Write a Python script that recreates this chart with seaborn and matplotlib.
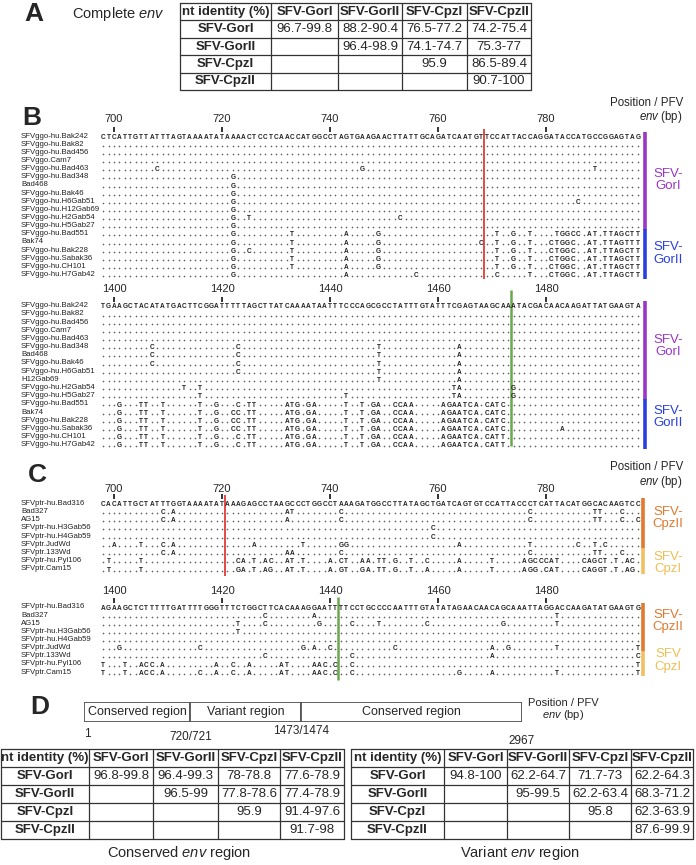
import matplotlib
matplotlib.use("Agg")
import matplotlib.pyplot as plt
import matplotlib.transforms as mtransforms
from matplotlib import font_manager as fm
import pandas as pd
import seaborn as sns

# ------------------------------------------------------------------ data
groups = ["SFV-GorI", "SFV-GorII", "SFV-CpzI", "SFV-CpzII"]
table_corner = "nt identity (%)"
complete_env = [["96.7-99.8", "88.2-90.4", "76.5-77.2", "74.2-75.4"],
                ["", "96.4-98.9", "74.1-74.7", "75.3-77"],
                ["", "", "95.9", "86.5-89.4"],
                ["", "", "", "90.7-100"]]
conserved_env = [["96.8-99.8", "96.4-99.3", "78-78.8", "77.6-78.9"],
                 ["", "96.5-99", "77.8-78.6", "77.4-78.9"],
                 ["", "", "95.9", "91.4-97.6"],
                 ["", "", "", "91.7-98"]]
variant_env = [["94.8-100", "62.2-64.7", "71.7-73", "62.2-64.3"],
               ["", "95-99.5", "62.2-63.4", "68.3-71.2"],
               ["", "", "95.8", "62.3-63.9"],
               ["", "", "", "87.6-99.9"]]

env_regions = ["Conserved region", "Variant region", "Conserved region"]
env_region_start = [1, 721, 1474]
env_region_end = [720, 1473, 2967]
env_marks = ["1", "720/721", "1473/1474", "2967"]
env_mark_pos = [1, 720.5, 1473.5, 2967]

gor_names_1 = ["SFVggo-hu.Bak242", "SFVggo-hu.Bak82", "SFVggo-hu.Bad456", "SFVggo.Cam7",
               "SFVggo-hu.Bad463", "SFVggo-hu.Bad348", "Bad468", "SFVggo-hu.Bak46",
               "SFVggo-hu.H6Gab51", "SFVggo-hu.H12Gab69", "SFVggo-hu.H2Gab54",
               "SFVggo-hu.H5Gab27", "SFVggo-hu.Bad551", "Bak74", "SFVggo-hu.Bak228",
               "SFVggo-hu.Sabak36", "SFVggo-hu.CH101", "SFVggo-hu.H7Gab42"]
gor_names_2 = ["SFVggo-hu.Bak242", "SFVggo-hu.Bak82", "SFVggo-hu.Bad456", "SFVggo.Cam7",
               "SFVggo-hu.Bad463", "SFVggo-hu.Bad348", "Bad468", "SFVggo-hu.Bak46",
               "SFVggo-hu.H6Gab51", "H12Gab69", "SFVggo-hu.H2Gab54",
               "SFVggo-hu.H5Gab27", "SFVggo-hu.Bad551", "Bak74", "SFVggo-hu.Bak228",
               "SFVggo-hu.Sabak36", "SFVggo-hu.CH101", "SFVggo-hu.H7Gab42"]
cpz_names = ["SFVptr-hu.Bad316", "Bad327", "AG15", "SFVptr-hu.H3Gab56", "SFVptr-hu.H4Gab59",
             "SFVptr.JudWd", "SFVptr.133Wd", "SFVptr-hu.Pyl106", "SFVptr.Cam15"]

gor_start_1 = 698
gor_ref_1 = "CTCATTGTTATTTAGTAAAATATAAAACTCCTCAACCATGGCCTAGTGAAGAACTTATTGCAGATCAATGTTCCATTACCAGGATACCATGCCGGAGTAG"
gor_var_1 = [
    [], [], [],
    [(10, "C"), (48, "G"), (91, "T")],
    [(24, "G")], [(24, "G")], [(24, "G")],
    [(24, "G"), (88, "C")],
    [(24, "G")],
    [(24, "G"), (27, "T"), (55, "C")],
    [(24, "G")],
    [(24, "G"), (35, "T"), (45, "A"), (51, "G"), (71, "..T..G..T....TGGCC.AT.TTAGCTT")],
    [(24, "G"), (35, "T"), (45, "A"), (51, "G"), (70, "C..T..G..T...CTGGC..AT.TTAGTTT")],
    [(24, "G"), (27, "C"), (35, "T"), (45, "A"), (51, "G"), (71, "..T..G..T...CTGGC..AT.TTAGCTT")],
    [(24, "G"), (35, "T"), (45, "A"), (51, "G"), (71, "..T..G..T...CTGGC..AT.TTAGCTT")],
    [(24, "G"), (35, "T"), (45, "A"), (51, "G"), (71, "..T..G..T...CTGGC..AT.TTAGCTT")],
    [(24, "G"), (45, "A"), (58, "C"), (71, "..C.....T...CTGGC..AT.TTAGCTT")],
]
gor_start_2 = 1398
gor_ref_2 = "TGAAGCTACATATGACTTCGGATTTTTAGCTTATCAAAATAATTTCCCAGCGCCTATTTGTATTTCGAGTAAGCAAATACGACAACAAGATTATGAAGTA"
gor_var_2 = [
    [], [], [], [],
    [(9, "C"), (25, "C"), (51, "T"), (66, "A")],
    [(9, "C"), (25, "C"), (51, "T"), (66, "A")],
    [(9, "C"), (25, "C"), (51, "T"), (66, "A")],
    [(25, "C"), (51, "T"), (66, "A")],
    [(51, "T"), (66, "A")],
    [(15, "T"), (18, "T"), (65, "TA"), (76, "G")],
    [(18, "T"), (45, "T"), (65, "TA"), (76, "G")],
    [(0, "...G...TT..T......T..G...C.TT.....ATG.GA.....T..T.GA..CCAA.....AGAATCA.CATC")],
    [(0, "...G...TT..T......T..G..CC.TT.....ATG.GA.....T..T.GA..CCAA.....AGAATCA.CATC")],
    [(0, "...G...TT..T......T..G..CC.TT.....ATG.GA.....T..T.GA..CCAA.....AGAATCA.CATC")],
    [(0, "...G...TT..T......T..G..CC.TT.....ATG.GA.....T..T.GA..CCAA.....AGAATCA.CATC"), (85, "A")],
    [(0, "...G...TT..T......T..G...C.TT.....ATG.GA.....T..T.GA..CCAA.....AGAATCA.CATT")],
    [(0, "...G...TT..T......T..G...C.TT.....ATG.GA.....T..T.GA..CCAA.....AGAATCA.CATT")],
]
cpz_start_1 = 698
cpz_ref_1 = "CACATTGCTATTTGGTAAAATATAAAGAGCCTAAGCCCTGGCCTAAAGATGGCCTTATAGCTGATCAGTGTCCATTACCCTCATTACATGGCACAAGTCC"
cpz_var_1 = [
    [(11, "C.A"), (34, "AT"), (44, "C"), (79, "C"), (91, "TT"), (96, "C")],
    [(11, "C.A"), (34, "A"), (44, "C"), (79, "C"), (91, "TT"), (96, "C..C")],
    [(61, "C")],
    [(61, "C")],
    [(2, "A"), (7, "T"), (11, "C.A"), (28, "A"), (37, "T"), (44, "GG"), (66, "A"), (79, "T"), (88, "C"), (91, "T.C")],
    [(11, "C.A"), (34, "AA"), (44, "C"), (79, "C"), (91, "TT"), (96, "C")],
    [(1, "T"), (7, "T"), (25, "CA.T.AC"), (34, "AT.T"), (42, "A.CT"), (48, "AA.TT.G"), (57, "T"),
     (60, "C"), (66, "A"), (72, "T"), (78, "AGCCCAT"), (89, "CAGCT.T.AC")],
    [(1, "T"), (7, "T"), (25, "GA.T.AG"), (34, "AT.T"), (42, "A.GT"), (48, "GA.TT.G"), (57, "T"),
     (60, "A"), (66, "A"), (72, "T"), (78, "AGG.CAT"), (89, "CAGGT.T.AG")],
]
cpz_start_2 = 1398
cpz_ref_2 = "AGAAGCTCTTTTTGATTTTGGGTTTCTGGCTTCACAAAGGAATTTTCCTGCCCCAATTTGTATATAGAACAACAGCAAATTAGGACCAAGATATGAAGTG"
cpz_var_2 = [
    [(30, "C"), (39, "A"), (84, "T")],
    [(25, "T"), (30, "C"), (40, "G"), (46, "C"), (51, "T"), (60, "C"), (74, "G"), (84, "T")],
    [(25, "T")],
    [],
    [(3, "G"), (18, "C"), (37, "G.A..C"), (54, "C"), (72, "A..G"), (84, "T"), (99, "T")],
    [(30, "C"), (46, "C"), (72, "A"), (99, "C")],
    [(0, "T...T..ACC.A.........A..C..A.....AT....AAC.C"), (46, "C"), (99, "T")],
    [(0, "T...T..ACC.A......C..A..C..A.....AT....AAC.C"), (46, "C"), (66, "G"), (72, "A"), (84, "T"), (99, "T")],
]

ticks_1 = [700, 720, 740, 760, 780]
ticks_2 = [1400, 1420, 1440, 1460, 1480]
gor_cut_1, gor_cut_2 = 768.5, 1473.5
cpz_cut_1, cpz_cut_2 = 720.5, 1441.5
gor_groups = [("SFV-\nGorI", 0, 11), ("SFV-\nGorII", 12, 17)]
cpz_groups_1 = [("SFV-\nCpzII", 0, 5), ("SFV-\nCpzI", 6, 8)]
cpz_groups_2 = [("SFV-\nCpzII", 0, 5), ("SFV\nCpzI", 6, 8)]

# ------------------------------------------------------------------ style
sns.set_theme(style="white")
avail = {f.name for f in fm.fontManager.ttflist}
SANS = "Liberation Sans"
NARROW = "Liberation Sans Narrow" if "Liberation Sans Narrow" in avail else SANS
SEQ_SIZE = 5.6 if NARROW != SANS else 4.7
plt.rcParams["font.family"] = [SANS, "DejaVu Sans"]
plt.rcParams["mathtext.fontset"] = "custom"
plt.rcParams["mathtext.rm"] = SANS
plt.rcParams["mathtext.it"] = SANS + ":italic"
plt.rcParams["mathtext.bf"] = SANS + ":bold"

COL = {"SFV-\nGorI": "#9a36c6", "SFV-\nGorII": "#2a3fe0", "SFV-\nCpzII": "#e07a30",
       "SFV-\nCpzI": "#f0c062", "SFV\nCpzI": "#f0c062"}
TXT = {"SFV-\nGorI": "#9a36c6", "SFV-\nGorII": "#2a3fe0", "SFV-\nCpzII": "#e07a30",
       "SFV-\nCpzI": "#eebf55", "SFV\nCpzI": "#eebf55"}

W, H = 696, 865
fig = plt.figure(figsize=(W / 100, H / 100), dpi=100)
over = fig.add_axes([0, 0, 1, 1])
over.set_xlim(0, W)
over.set_ylim(H, 0)
over.axis("off")


def px_axes(x0, y0, x1, y1):
    a = fig.add_axes([x0 / W, 1 - y1 / H, (x1 - x0) / W, (y1 - y0) / H])
    a.patch.set_alpha(0)
    return a


STEP = 5.4
X_LEFT = 100.5
TICK_LEN_PT = 3.5
POS_LABEL = "Position / PFV\n$\\it{env}$ (bp)"


def build_rows(ref, variants):
    rows = [ref]
    for muts in variants:
        r = ["."] * len(ref)
        for off, seg in muts:
            for k, ch in enumerate(seg):
                if off + k < len(ref):
                    r[off + k] = ch
        rows.append("".join(r))
    return rows


def draw_block(start, ref, variants, names, ticks, cut, cut_color, cut_lw,
               first_row, row_h, label_y, cut_span, groups, bar_x, label_pos):
    n = len(names)
    L = len(ref)
    y0 = first_row - row_h / 2
    ax = px_axes(X_LEFT, y0, X_LEFT + L * STEP, y0 + n * row_h)
    rows = build_rows(ref, variants)
    dots = [(start + i, r + 0.2) for r, s in enumerate(rows) for i, ch in enumerate(s) if ch == "."]
    df = pd.DataFrame(dots, columns=["pos", "row"])
    sns.scatterplot(data=df, x="pos", y="row", ax=ax, s=1.4, color="#606060",
                    linewidth=0, legend=False)
    for r, s in enumerate(rows):
        for i, ch in enumerate(s):
            if ch != ".":
                ax.text(start + i, r + 0.33, ch, ha="center", va="baseline",
                        fontsize=SEQ_SIZE, fontweight="bold", family=NARROW, color="#222222")
    ax.set_xlim(start - 0.5, start + L - 0.5)
    ax.set_ylim(n - 0.5, -0.5)
    ax.set(xlabel="", ylabel="")
    for sp in ax.spines.values():
        sp.set_visible(False)
    ax.set_yticks([])
    ax.set_xticks(ticks)
    ax.set_xticklabels([str(t) for t in ticks])
    tl_px = TICK_LEN_PT * 100 / 72
    pad_px = y0 - tl_px - 6.3 - label_y
    ax.tick_params(axis="x", top=True, bottom=False, labeltop=True, labelbottom=False,
                   length=TICK_LEN_PT, width=1.2, color="#111111", direction="out",
                   labelsize=8, pad=max(pad_px, 0) * 72 / 100)
    ax.grid(False)
    ax.plot([cut, cut], [cut_span[0], cut_span[1]], color=cut_color, lw=cut_lw,
            clip_on=False, solid_capstyle="butt")
    tr = mtransforms.blended_transform_factory(fig.transFigure, ax.transData)
    for r, nm in enumerate(names):
        ax.text(21 / W, r, nm, transform=tr, ha="left", va="center", fontsize=5.6,
                color="#222222", clip_on=False)
    for (lab, r0, r1), lp in zip(groups, label_pos):
        ax.plot([bar_x / W] * 2, [r0 - 0.55, r1 + 0.55], transform=tr, color=COL[lab],
                lw=2.6, clip_on=False, solid_capstyle="butt")
        ax.text(668 / W, lp, lab, transform=tr, ha="center", va="center", fontsize=9.5,
                color=TXT[lab], linespacing=1.05, clip_on=False)
    return ax


def draw_table(x_edges, top, rh, values, fontsize=9.5):
    nrow = len(values) + 1
    for x in x_edges:
        over.plot([x, x], [top, top + nrow * rh], color="#333333", lw=0.9)
    for k in range(nrow + 1):
        over.plot([x_edges[0], x_edges[-1]], [top + k * rh] * 2, color="#333333", lw=0.9)
    cx = [(x_edges[i] + x_edges[i + 1]) / 2 for i in range(len(x_edges) - 1)]
    cy = [top + (k + 0.5) * rh for k in range(nrow)]
    over.text(cx[0], cy[0], table_corner, ha="center", va="center", fontsize=fontsize,
              fontweight="bold")
    for j, g in enumerate(groups):
        over.text(cx[j + 1], cy[0], g, ha="center", va="center", fontsize=fontsize,
                  fontweight="bold")
    for i, g in enumerate(groups):
        over.text(cx[0], cy[i + 1], g, ha="center", va="center", fontsize=fontsize,
                  fontweight="bold")
        for j, v in enumerate(values[i]):
            if v:
                over.text(cx[j + 1], cy[i + 1], v, ha="center", va="center", fontsize=fontsize)


# ------------------------------------------------------------------ panel A
over.text(24, 14, "A", fontsize=19, fontweight="bold", ha="left", va="center")
over.text(72, 14, "Complete $\\it{env}$", fontsize=10.5, ha="left", va="center")
draw_table([180, 271, 338, 402, 467, 531], 3, 17.4, complete_env)

# ------------------------------------------------------------------ panel B
over.text(22, 118, "B", fontsize=19, fontweight="bold", ha="left", va="center")
over.text(683, 111, POS_LABEL, fontsize=8.3, ha="right", va="center",
          multialignment="right", linespacing=1.0)
draw_block(gor_start_1, gor_ref_1, gor_var_1, gor_names_1, ticks_1, gor_cut_1, "#e02a2a", 1.2,
           136, 8.15, 118, (-0.8, 17.6), gor_groups, 645, [5.4, 14.4])
draw_block(gor_start_2, gor_ref_2, gor_var_2, gor_names_2, ticks_2, gor_cut_2, "#6aa84f", 1.8,
           305.7, 8.18, 288, (-1.9, 17.2), gor_groups, 645, [4.9, 13.6])

# ------------------------------------------------------------------ panel C
over.text(28, 475, "C", fontsize=19, fontweight="bold", ha="left", va="center")
over.text(683, 475.5, POS_LABEL, fontsize=8.3, ha="right", va="center",
          multialignment="right", linespacing=1.0)
draw_block(cpz_start_1, cpz_ref_1, cpz_var_1, cpz_names, ticks_1, cpz_cut_1, "#e02a2a", 1.2,
           503, 8.25, 487.5, (-1.0, 8.8), cpz_groups_1, 643, [1.8, 7.3])
draw_block(cpz_start_2, cpz_ref_2, cpz_var_2, cpz_names, ticks_2, cpz_cut_2, "#6aa84f", 1.8,
           607, 8.125, 590, (-1.2, 9.0), cpz_groups_2, 643, [1.7, 6.6])

# ------------------------------------------------------------------ panel D
over.text(30, 707, "D", fontsize=19, fontweight="bold", ha="left", va="center")
dax = px_axes(84, 702, 522, 722)
dax.barh([0] * 3, [e - s + 1 for s, e in zip(env_region_start, env_region_end)],
         left=[s - 1 for s in env_region_start], height=1.0, color="white",
         edgecolor="#555555", linewidth=1.3, align="center")
for lab, s, e in zip(env_regions, env_region_start, env_region_end):
    dax.text((s + e) / 2, 0, lab, ha="center", va="center", fontsize=9)
dax.set_xlim(0, 2967)
dax.set_ylim(-0.5, 0.5)
dax.axis("off")
trd = mtransforms.blended_transform_factory(dax.transData, over.transData)
mark_y = [734, 737, 731, 741]
mark_ha = ["left", "center", "center", "center"]
for m, p, yy, ha in zip(env_marks, env_mark_pos, mark_y, mark_ha):
    over.text(p, yy, m, transform=trd, ha=ha, va="center", fontsize=8.5)
over.text(563, 710.5, POS_LABEL, fontsize=8, ha="center", va="center",
          multialignment="center", linespacing=1.0)

draw_table([0.6, 89, 153, 218, 280, 344], 749, 18, conserved_env)
draw_table([351, 444, 507, 569, 631, 693], 749, 18, variant_env)
over.text(179, 853, "Conserved $\\it{env}$ region", fontsize=10.5, ha="center", va="center")
over.text(520, 853, "Variant $\\it{env}$ region", fontsize=10.5, ha="center", va="center")

fig.savefig("out.png", dpi=100)
